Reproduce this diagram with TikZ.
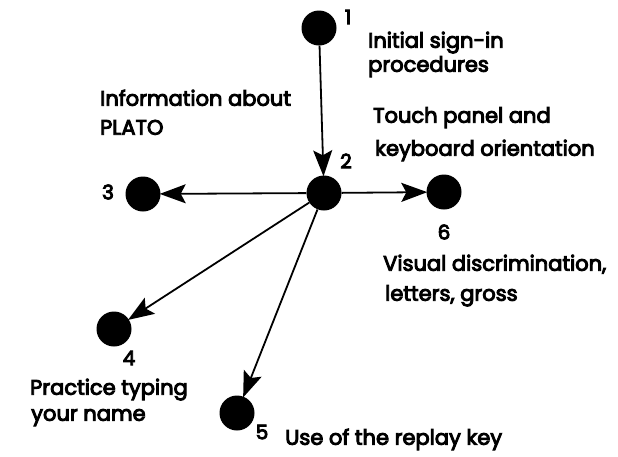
\documentclass[tikz,border=0pt]{standalone}
\usepackage{fontspec}
\setmainfont{Poppins}
\newfontfamily\labelfont{Poppins}[FakeBold=4.5]
\usetikzlibrary{arrows.meta}
\begin{document}
\begin{tikzpicture}[x=1pt,y=-1pt,
  dot/.style={circle,fill=black,inner sep=0pt,minimum size=35pt},
  link/.style={line width=1.8pt,-{Stealth[length=26pt,width=19pt,inset=5pt]},shorten >=-1pt},
  lbl/.style={font=\labelfont\fontsize{21}{24}\selectfont,inner sep=0pt,anchor=mid west},
  num/.style={font=\labelfont\fontsize{20}{24}\selectfont,inner sep=0pt}]
\useasboundingbox (0,0) rectangle (618,456);
% stations
\node[dot] (n1) at (319,28) {};
\node[dot] (n2) at (324,193) {};
\node[dot] (n3) at (143,194) {};
\node[dot] (n6) at (444,192) {};
\node[dot] (n4) at (114,329) {};
\node[dot] (n5) at (237,413) {};
% connections
\draw[link] (n1) -- (n2);
\draw[link] (n2) -- (n3);
\draw[link] (n2) -- (n6);
\draw[link] (n2) -- (n4);
\draw[link] (n2) -- (n5);
% numbers
\node[num] (t1) at (348,17) {1};
\node[num] (t2) at (346,161) {2};
\node[num] (t3) at (108,192) {3};
\node[num] (t6) at (444,232) {6};
\node[num] (t4) at (129,358) {4};
\node[num] (t5) at (262,432) {5};
% descriptions, one node per printed line
\node[lbl] (d1a) at (368,45) {Initial sign-in};
\node[lbl] (d1b) at (368,69) {procedures};
\node[lbl] (d2a) at (373,120) {Touch panel and};
\node[lbl] (d2b) at (375,153) {keyboard orientation};
\node[lbl] (d3a) at (100,103) {Information about};
\node[lbl] (d3b) at (100,132) {PLATO};
\node[lbl] (d6a) at (383,268) {Visual discrimination,};
\node[lbl] (d6b) at (385,298) {letters, gross};
\node[lbl] (d4a) at (30,392) {Practice typing};
\node[lbl] (d4b) at (31,418) {your name};
\node[lbl] (d5) at (285,442) {Use of the replay key};
\end{tikzpicture}
\end{document}
